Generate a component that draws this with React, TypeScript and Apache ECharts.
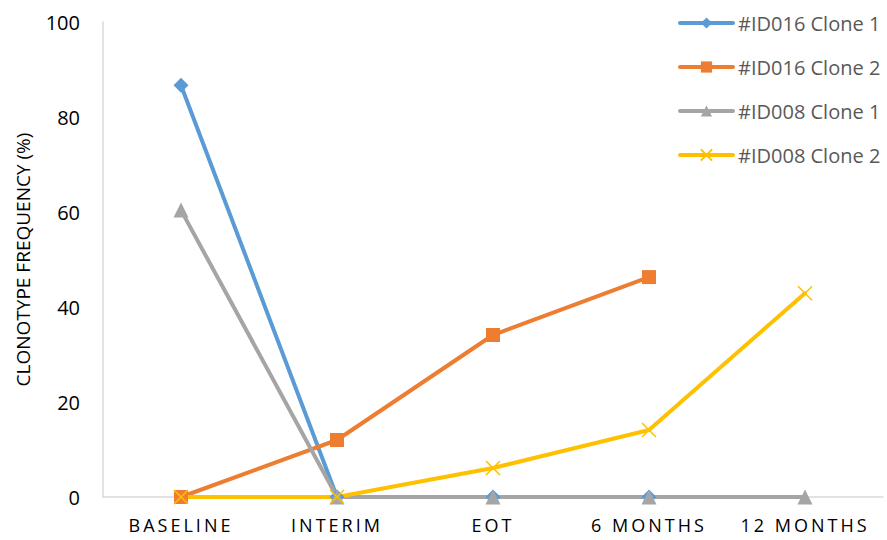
import React, { useEffect, useRef } from "react";
import * as echarts from "echarts";

// Time points of the follow-up
const timepoints = ["BASELINE", "INTERIM", "EOT", "6 MONTHS", "12 MONTHS"];

// Clonotype frequency (%) per clone at each time point
const id016Clone1 = [86.7, 0, 0, 0, null];
const id016Clone2 = [0, 12, 34.1, 46.3, null];
const id008Clone1 = [60.4, 0, 0, 0, 0];
const id008Clone2 = [0, 0, 6.1, 14.1, 42.9];

const seriesNames = ["#ID016 Clone 1", "#ID016 Clone 2", "#ID008 Clone 1", "#ID008 Clone 2"];

const FONT = "'Open Sans', 'Noto Sans', sans-serif";
const CROSS = "path://M0,0L10,10M10,0L0,10";

export default function App() {
  const ref = useRef<HTMLDivElement>(null);

  useEffect(() => {
    if (!ref.current) return;
    const el = ref.current;
    const chart = echarts.init(el, null, { renderer: "svg" });

    const lineSeries = (name: string, data: (number | null)[], color: string, symbol: string, size: number, extra: any = {}) => ({
      name,
      type: "line",
      data,
      symbol,
      symbolSize: size,
      showSymbol: true,
      connectNulls: false,
      lineStyle: { color, width: 4, cap: "round" },
      itemStyle: { color },
      emphasis: { disabled: true },
      ...extra,
    });

    // spaced-out capitals on the category axis
    const spaceCategoryLabels = () => {
      el.querySelectorAll("text").forEach((t) => {
        if (timepoints.includes((t.textContent || "").trim())) {
          t.setAttribute("letter-spacing", "3px");
        }
      });
    };
    chart.on("finished", spaceCategoryLabels);

    chart.setOption({
      animation: false,
      backgroundColor: "#ffffff",
      grid: { left: 103, right: 4, top: 22, bottom: 43, containLabel: false },
      legend: {
        orient: "vertical",
        left: 673,
        top: 8,
        itemWidth: 53,
        itemHeight: 14,
        itemGap: 24,
        lineStyle: { width: 4 },
        textStyle: { fontFamily: FONT, fontSize: 20, color: "#595959" },
        data: seriesNames,
      },
      xAxis: {
        type: "category",
        data: timepoints,
        boundaryGap: true,
        axisLine: { show: true, lineStyle: { color: "#d9d9d9", width: 1.5 } },
        axisTick: { show: false },
        axisLabel: { fontFamily: FONT, fontSize: 18, color: "#000000", margin: 19 },
        splitLine: { show: false },
      },
      yAxis: {
        type: "value",
        min: 0,
        max: 100,
        interval: 20,
        name: "CLONOTYPE FREQUENCY (%)",
        nameLocation: "middle",
        nameRotate: 90,
        nameGap: 71,
        nameTextStyle: { fontFamily: FONT, fontSize: 19, color: "#000000" },
        axisLine: { show: true, lineStyle: { color: "#d9d9d9", width: 1.5 } },
        axisTick: { show: false },
        axisLabel: { fontFamily: FONT, fontSize: 20, color: "#000000", margin: 23 },
        splitLine: { show: false },
      },
      series: [
        lineSeries(seriesNames[0], id016Clone1, "#5B9BD5", "diamond", 15),
        lineSeries(seriesNames[1], id016Clone2, "#ED7D31", "rect", 14),
        lineSeries(seriesNames[2], id008Clone1, "#A5A5A5", "triangle", 15),
        lineSeries(seriesNames[3], id008Clone2, "#FFC000", CROSS, 14, {
          itemStyle: { color: "none", borderColor: "#FFC000", borderWidth: 1.5 },
        }),
      ],
    });
    spaceCategoryLabels();

    return () => chart.dispose();
  }, []);

  return <div ref={ref} style={{ width: 887, height: 540, position: "absolute", left: 0, top: 0 }} />;
}
